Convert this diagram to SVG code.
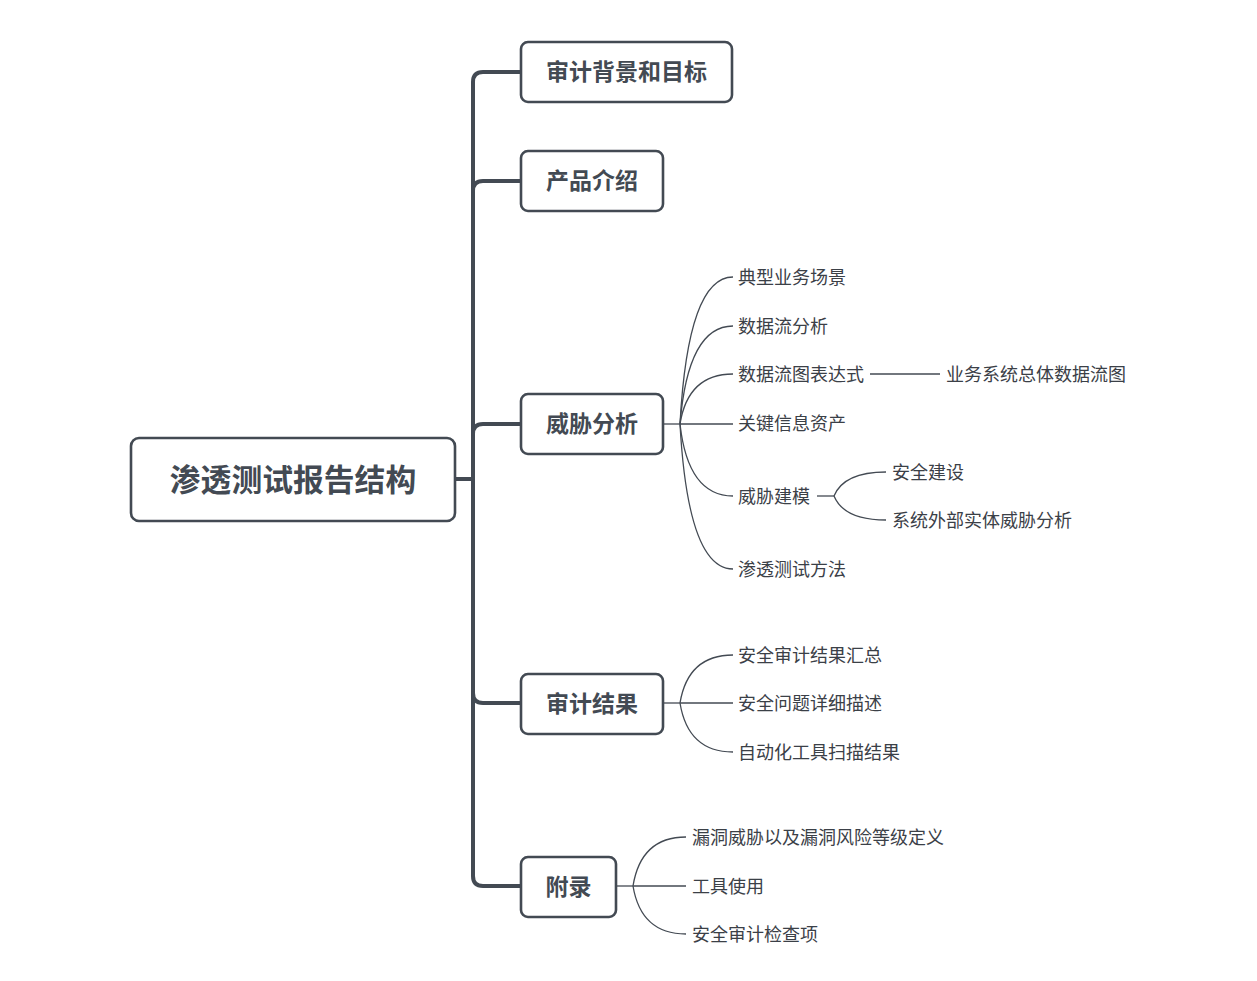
<svg xmlns="http://www.w3.org/2000/svg" width="1257" height="981" viewBox="0 0 1257 981">
<style>
.node{fill:#ffffff;stroke:#434a53;stroke-width:2.6}
.t0{font-family:"Noto Sans CJK SC","Noto Sans",sans-serif;font-size:30.8px;font-weight:bold;fill:#434a53}
.t1{font-family:"Noto Sans CJK SC","Noto Sans",sans-serif;font-size:23px;font-weight:bold;fill:#434a53}
.t2{font-family:"Noto Sans CJK SC","Noto Sans",sans-serif;font-size:18px;fill:#3b4047}
.trunk{fill:none;stroke:#434a53;stroke-width:4;stroke-linecap:round}
.thin{fill:none;stroke:#434a53;stroke-width:1.3}
</style>
<rect width="1257" height="981" fill="#ffffff"/>
<g id="connectors">
<path class="trunk" d="M455,479 H473"/>
<path class="trunk" d="M521,72 H483 Q473,72 473,82 V876 Q473,886 483,886 H521"/>
<path class="trunk" d="M521,181 H483 Q473,181 473,191"/>
<path class="trunk" d="M521,424 H483 Q473,424 473,434"/>
<path class="trunk" d="M521,703 H483 Q473,703 473,693"/>
<path class="thin" d="M663,424 H680"/>
<path class="thin" d="M680,424 Q688,277 733,277"/>
<path class="thin" d="M680,424 Q688,326 733,326"/>
<path class="thin" d="M680,424 Q688,374 733,374"/>
<path class="thin" d="M680,424 H733"/>
<path class="thin" d="M680,424 Q688,496 733,496"/>
<path class="thin" d="M680,424 Q688,569 733,569"/>
<path class="thin" d="M870,374 H940"/>
<path class="thin" d="M817,496 H834"/>
<path class="thin" d="M834,496 Q844,472 886,472"/>
<path class="thin" d="M834,496 Q844,520 886,520"/>
<path class="thin" d="M663,703 H680"/>
<path class="thin" d="M680,703 Q688,655 733,655"/>
<path class="thin" d="M680,703 H733"/>
<path class="thin" d="M680,703 Q688,752 733,752"/>
<path class="thin" d="M616,886 H633"/>
<path class="thin" d="M633,886 Q641,837 686,837"/>
<path class="thin" d="M633,886 H686"/>
<path class="thin" d="M633,886 Q641,934 686,934"/>
</g>
<g id="root">
<rect class="node" x="131" y="438" width="324" height="83" rx="8" stroke-width="3"/>
<text class="t0" x="293" y="477" text-anchor="middle" dominant-baseline="central">渗透测试报告结构</text>
</g>
<g id="n-bg">
<rect class="node" x="521" y="42" width="211" height="60" rx="7"/>
<text class="t1" x="626.5" y="70" text-anchor="middle" dominant-baseline="central">审计背景和目标</text>
</g>
<g id="n-product">
<rect class="node" x="521" y="151" width="142" height="60" rx="7"/>
<text class="t1" x="592" y="179" text-anchor="middle" dominant-baseline="central">产品介绍</text>
</g>
<g id="n-threat">
<rect class="node" x="521" y="394" width="142" height="60" rx="7"/>
<text class="t1" x="592" y="422" text-anchor="middle" dominant-baseline="central">威胁分析</text>
</g>
<g id="n-result">
<rect class="node" x="521" y="674" width="142" height="60" rx="7"/>
<text class="t1" x="592" y="702" text-anchor="middle" dominant-baseline="central">审计结果</text>
</g>
<g id="n-appendix">
<rect class="node" x="521" y="857" width="95" height="60" rx="7"/>
<text class="t1" x="568.5" y="885" text-anchor="middle" dominant-baseline="central">附录</text>
</g>
<g id="threat-children">
<text class="t2" x="738" y="276" dominant-baseline="central">典型业务场景</text>
<text class="t2" x="738" y="325" dominant-baseline="central">数据流分析</text>
<text class="t2" x="738" y="373" dominant-baseline="central">数据流图表达式</text>
<text class="t2" x="946" y="373" dominant-baseline="central">业务系统总体数据流图</text>
<text class="t2" x="738" y="422" dominant-baseline="central">关键信息资产</text>
<text class="t2" x="738" y="495" dominant-baseline="central">威胁建模</text>
<text class="t2" x="892" y="471" dominant-baseline="central">安全建设</text>
<text class="t2" x="892" y="519" dominant-baseline="central">系统外部实体威胁分析</text>
<text class="t2" x="738" y="568" dominant-baseline="central">渗透测试方法</text>
</g>
<g id="result-children">
<text class="t2" x="738" y="654" dominant-baseline="central">安全审计结果汇总</text>
<text class="t2" x="738" y="702" dominant-baseline="central">安全问题详细描述</text>
<text class="t2" x="738" y="751" dominant-baseline="central">自动化工具扫描结果</text>
</g>
<g id="appendix-children">
<text class="t2" x="692" y="836" dominant-baseline="central">漏洞威胁以及漏洞风险等级定义</text>
<text class="t2" x="692" y="885" dominant-baseline="central">工具使用</text>
<text class="t2" x="692" y="933" dominant-baseline="central">安全审计检查项</text>
</g>
</svg>
